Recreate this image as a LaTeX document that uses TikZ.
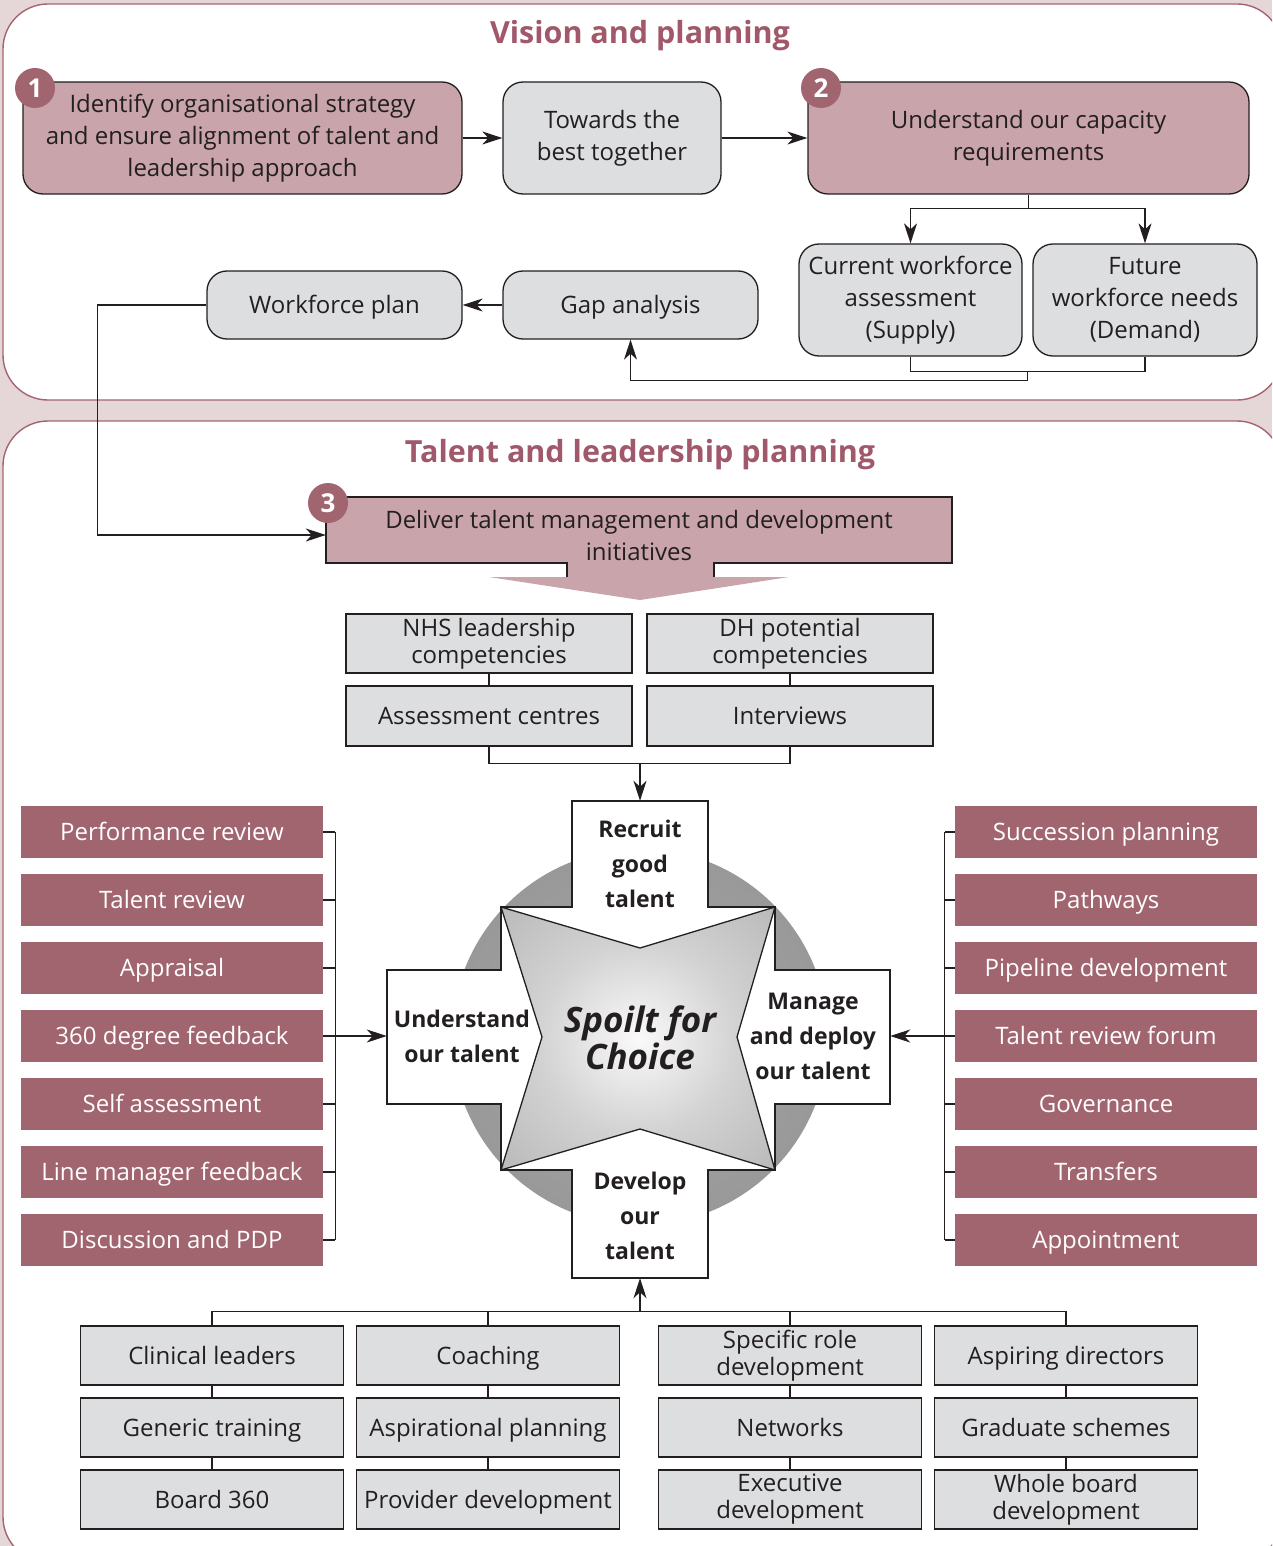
\documentclass[tikz,border=0pt]{standalone}
\usepackage{fontspec}
\setmainfont{Open Sans}
\usetikzlibrary{arrows.meta, positioning, calc}
\definecolor{pageBg}{RGB}{229,214,216}
\definecolor{panelEdge}{RGB}{165,100,114}
\definecolor{mauveDark}{RGB}{161,101,112}
\definecolor{mauveLight}{RGB}{201,164,170}
\definecolor{boxGrey}{RGB}{221,222,224}
\definecolor{titleMauve}{RGB}{160,88,106}
\definecolor{inkDark}{RGB}{35,31,32}
\pgfdeclareradialshading{ringshade}{\pgfpoint{0bp}{0bp}}{color(0bp)=(gray!70); color(25bp)=(gray!80); color(50bp)=(gray!100); color(60bp)=(gray!100)}
\pgfdeclareradialshading{starshade}{\pgfpoint{0bp}{0bp}}{color(0bp)=(white!96!gray); color(18bp)=(gray!35); color(71bp)=(gray!95)}
\tikzset{
  boxtext/.style={font=\fontsize{24}{32}\selectfont, text=inkDark, align=center, inner sep=0pt},
  oneline/.style={text height=17pt, text depth=0pt},
  roundbox/.style={boxtext, draw=inkDark, line width=1.3pt, rounded corners=20pt},
  planbox/.style={roundbox, fill=mauveLight},
  greybox/.style={roundbox, fill=boxGrey},
  sqbox/.style={boxtext, font=\fontsize{24}{27}\selectfont, draw=inkDark, line width=1.3pt, fill=boxGrey},
  listbox/.style={boxtext, oneline, text=white, fill=mauveDark, minimum width=302, minimum height=52},
  numdot/.style={circle, fill=mauveDark, text=white, minimum size=40, inner sep=0pt, font=\bfseries\fontsize{26}{26}\selectfont},
  cycletext/.style={font=\bfseries\fontsize{23}{35}\selectfont, text=inkDark, align=center, inner sep=0pt},
  heading/.style={font=\bfseries\fontsize{30.5}{34}\selectfont, text=titleMauve},
  link/.style={draw=inkDark, line width=1.3pt},
  arr/.style={link, -{Stealth[length=20pt, width=13pt, inset=6pt]}},
}
\begin{document}
\begin{tikzpicture}[x=1pt, y=-1pt]
  \path[use as bounding box, fill=pageBg] (0,0) rectangle (1272,1546);
  \clip (0,0) rectangle (1272,1546);
  % panels
  \draw[fill=white, draw=panelEdge, line width=1.4pt, rounded corners=45pt] (3,4) rectangle (1282,400);
  \draw[fill=white, draw=panelEdge, line width=1.4pt, rounded corners=45pt] (3,421) rectangle (1282,1562);
  \node[heading] (vision) at (640,36) {Vision and planning};
  \node[heading] (talent) at (640,455) {Talent and leadership planning};

  % vision and planning
  \node[planbox, minimum width=439, minimum height=112] (strategy) at (242.5,138)
    {Identify organisational strategy\\and ensure alignment of talent and\\leadership approach};
  \node[greybox, minimum width=218, minimum height=112] (towards) at (612,138) {Towards the\\best together};
  \node[planbox, minimum width=441, minimum height=112] (capacity) at (1028.5,138)
    {Understand our capacity\\requirements};
  \node[greybox, minimum width=223, minimum height=112] (current) at (910.5,300)
    {Current workforce\\assessment\\(Supply)};
  \node[greybox, minimum width=224, minimum height=112] (future) at (1145,300)
    {Future\\workforce needs\\(Demand)};
  \node[greybox, oneline, minimum width=255, minimum height=68] (gap) at (630.5,305) {Gap analysis};
  \node[greybox, oneline, minimum width=255, minimum height=68] (wfplan) at (334.5,305) {Workforce plan};
  \node[numdot] (num1) at (35,88) {1};
  \node[numdot] (num2) at (821,88) {2};

  \draw[arr] (strategy) -- (towards);
  \draw[arr] (towards) -- (capacity);
  \draw[link] (capacity.south) -- ++(0,14) coordinate (split);
  \draw[arr] (split) -| (current.north);
  \draw[arr] (split) -| (future.north);
  \coordinate (merge) at ($(current.south)!.5!(future.south)+(0,15)$);
  \draw[link] (current.south) |- (merge) -| (future.south);
  \draw[arr] (merge) -- ++(0,9) -| (gap.south);
  \draw[arr] (gap) -- (wfplan);

  % talent and leadership planning
  \fill[mauveLight] (326,497) rectangle (952,563) (567,563) rectangle (714,578);
  \fill[mauveLight] (489,577) -- (789,577) -- (640,600) -- cycle;
  \draw[link] (567,577) -- (567,563) -- (326,563) -- (326,497) -- (952,497) -- (952,563) -- (714,563) -- (714,577);
  \node[boxtext, minimum width=626, minimum height=72] (deliver) at (639,535)
    {Deliver talent management and development\\initiatives};
  \node[numdot] (num3) at (328,503) {3};
  \draw[arr] (wfplan.west) -- ++(-109,0) |- (deliver.west);

  \node[sqbox, minimum width=286, minimum height=59] (nhs) at (489,643.5) {NHS leadership\\competencies};
  \node[sqbox, minimum width=286, minimum height=59] (dh) at (790,643.5) {DH potential\\competencies};
  \node[sqbox, oneline, minimum width=286, minimum height=60] (assess) at (489,716) {Assessment centres};
  \node[sqbox, oneline, minimum width=286, minimum height=60] (interv) at (790,716) {Interviews};
  \draw[link] (nhs) -- (assess);
  \draw[link] (dh) -- (interv);

  % talent cycle
  \path[shading=ringshade] (640,1037) circle (188);
  \draw[fill=white, line width=1.3pt, draw=inkDark]
    (572,801) -- (708,801) -- (708,907) -- (775,907) -- (775,970) -- (890,970) -- (890,1104)
    -- (775,1104) -- (775,1170) -- (708,1170) -- (708,1278) -- (572,1278) -- (572,1170)
    -- (501,1170) -- (501,1104) -- (387,1104) -- (387,970) -- (501,970) -- (501,907) -- (572,907) -- cycle;
  \path[draw=inkDark, line width=1.3pt, shading=starshade]
    (501,907) -- (640,948) -- (775,907) -- (737,1037) -- (775,1170) -- (640,1129) -- (501,1170) -- (542,1037) -- cycle;
  \node[cycletext, minimum width=136, minimum height=126] (recruit) at (640,864) {Recruit\\good\\talent};
  \node[cycletext, minimum width=150, minimum height=134] (understand) at (462,1036) {Understand\\our talent};
  \node[cycletext, minimum width=154, minimum height=134] (manage) at (813,1036) {Manage\\and deploy\\our talent};
  \node[cycletext, minimum width=136, minimum height=124] (develop) at (640,1216) {Develop\\our\\talent};
  \node[font=\bfseries\itshape\fontsize{35}{37}\selectfont, text=inkDark, align=center, inner sep=0pt] (spoilt) at (640,1038)
    {Spoilt for\\Choice};
  \draw[link] (assess.south) |- ($(assess.south)!.5!(interv.south)+(0,17)$) coordinate (fanin) -| (interv.south);
  \draw[arr] (fanin -| recruit.north) -- (recruit.north);

  % side lists
  \foreach \lbl [count=\i] in {Performance review, Talent review, Appraisal, 360 degree feedback,
      Self assessment, Line manager feedback, Discussion and PDP} {
    \node[listbox] (lst\i) at (172,{832+68*(\i-1)}) {\lbl};
    \draw[link] (lst\i.east) -- ++(12,0);
  }
  \foreach \lbl [count=\i] in {Succession planning, Pathways, Pipeline development, Talent review forum,
      Governance, Transfers, Appointment} {
    \node[listbox] (rst\i) at (1106,{832+68*(\i-1)}) {\lbl};
    \draw[link] (rst\i.west) -- ++(-10,0);
  }
  \draw[link] ($(lst1.east)+(12,0)$) -- ($(lst7.east)+(12,0)$);
  \draw[link] ($(rst1.west)+(-10,0)$) -- ($(rst7.west)+(-10,0)$);
  \draw[arr] ($(lst4.east)+(12,0)$) -- (understand.west);
  \draw[arr] ($(rst4.west)+(-10,0)$) -- (manage.east);

  % development offers
  \foreach \x/\c in {212/1, 488/2, 790/3, 1066/4}
    \foreach \y/\r in {1355.5/1, 1427.5/2, 1499.5/3}
      \node[sqbox, minimum width=263, minimum height=59] (b\c\r) at (\x,\y) {};
  \node[boxtext, oneline] at (b11) {Clinical leaders};
  \node[boxtext, oneline] at (b12) {Generic training};
  \node[boxtext, oneline] at (b13) {Board 360};
  \node[boxtext, oneline] at (b21) {Coaching};
  \node[boxtext, oneline] at (b22) {Aspirational planning};
  \node[boxtext, oneline] at (b23) {Provider development};
  \node[boxtext, font=\fontsize{24}{27}\selectfont] at (b31) {Specific role\\development};
  \node[boxtext, oneline] at (b32) {Networks};
  \node[boxtext, font=\fontsize{24}{27}\selectfont] at (b33) {Executive\\development};
  \node[boxtext, oneline] at (b41) {Aspiring directors};
  \node[boxtext, oneline] at (b42) {Graduate schemes};
  \node[boxtext, font=\fontsize{24}{27}\selectfont] at (b43) {Whole board\\development};
  \foreach \c in {1,2,3,4}
    \draw[link] (b\c1) -- (b\c2) -- (b\c3);
  \draw[link] (b11.north) -- ++(0,-14) coordinate (busL) -- (busL -| b41.north) -- (b41.north);
  \draw[link] (b21.north) -- (b21.north |- busL);
  \draw[link] (b31.north) -- (b31.north |- busL);
  \draw[arr] (busL -| develop.south) -- (develop.south);
\end{tikzpicture}
\end{document}
